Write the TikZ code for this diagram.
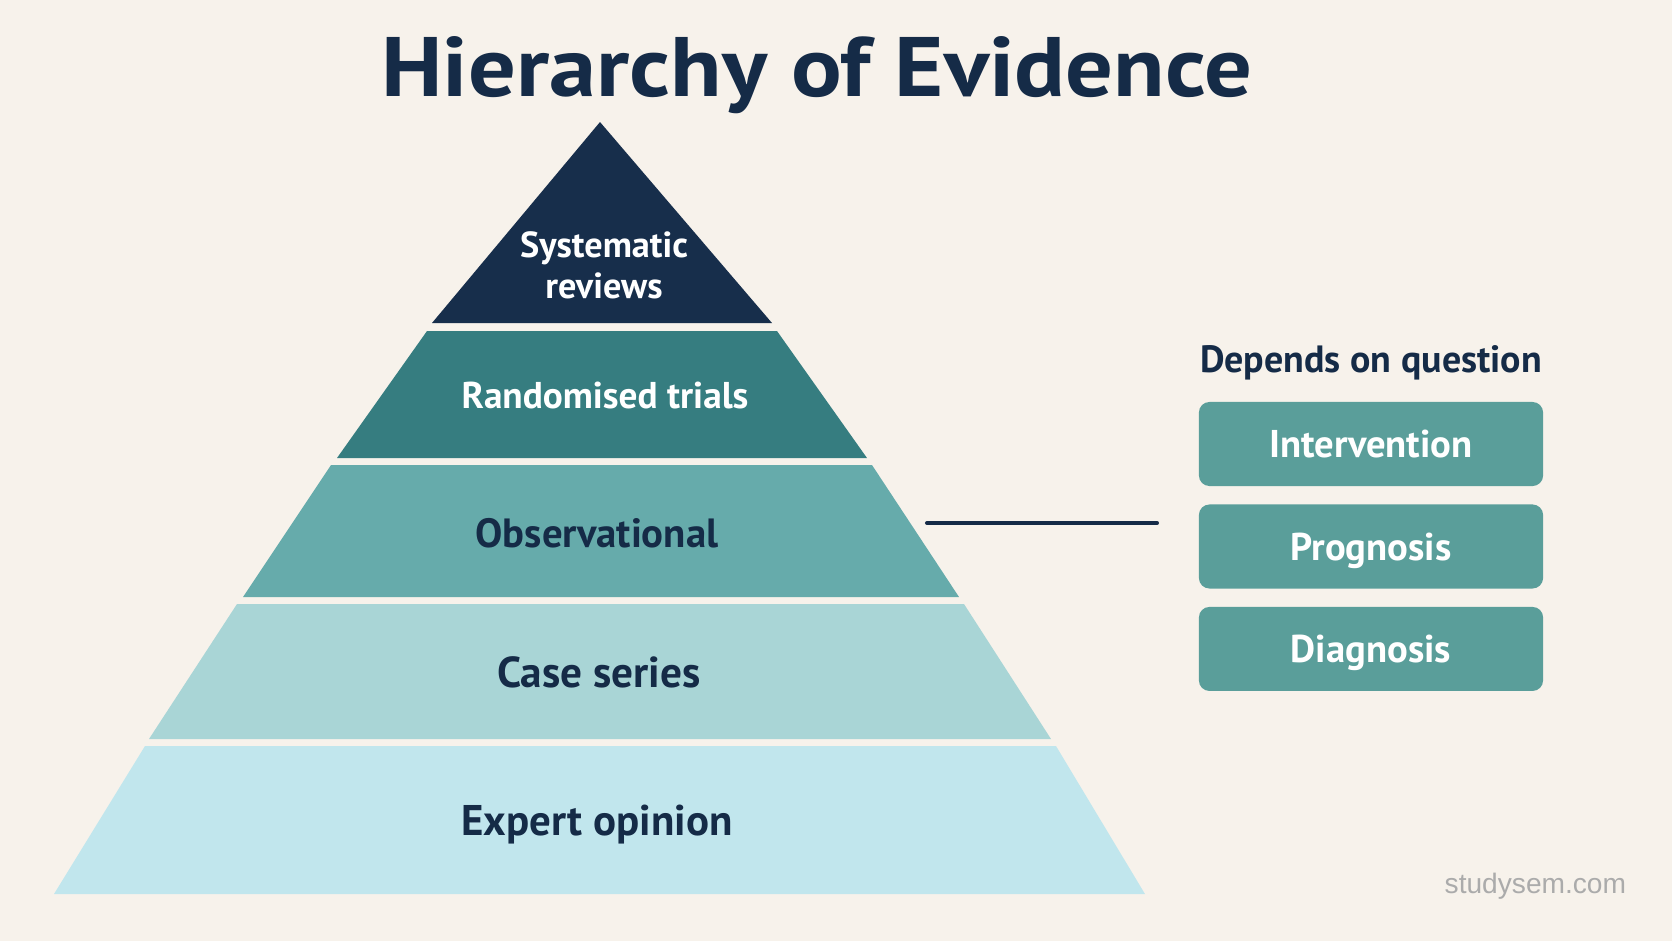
\documentclass[tikz,border=0pt]{standalone}
\usepackage{fontspec}
\setmainfont{PT Sans}
\newfontfamily\titlefont[FakeStretch=1.12]{PT Sans}
\newfontfamily\markfont{Liberation Sans}
\usetikzlibrary{positioning}
\definecolor{bgcream}{HTML}{F7F2EB}
\definecolor{navyink}{HTML}{152B47}
\definecolor{tiertop}{HTML}{172E4B}
\definecolor{tiertwo}{HTML}{367D80}
\definecolor{tierthree}{HTML}{66ABAB}
\definecolor{tierfour}{HTML}{A9D5D6}
\definecolor{tierfive}{HTML}{C1E6ED}
\definecolor{qfill}{HTML}{5A9E9A}
\definecolor{markgray}{HTML}{ABABAB}

\begin{document}
\begin{tikzpicture}[x=0.01cm,y=-0.01cm,line cap=round,
  tierlbl/.style={anchor=base,inner sep=0pt,font=\bfseries},
  qbox/.style={fill=qfill,rounded corners=3pt,minimum width=3.44cm,minimum height=0.84cm,
    text height=7.7pt,text depth=0pt,inner sep=0pt,text=white,font=\bfseries\fontsize{11}{13}\selectfont}]
\useasboundingbox (0,0) rectangle (1672,941);
\fill[bgcream] (0,0) rectangle (1672,941);
% title
\node[tierlbl,text=navyink,font=\titlefont\bfseries\fontsize{24}{28}\selectfont] (title) at (817,96) {Hierarchy of Evidence};
% pyramid tiers, top to bottom
\fill[tiertop] (600,122) -- (772,323) -- (432,323) -- cycle;
\fill[tiertwo] (427,331) -- (777,331) -- (867,458) -- (337,458) -- cycle;
\fill[tierthree] (331,465) -- (872,465) -- (959,597) -- (243,597) -- cycle;
\fill[tierfour] (237,604) -- (964,604) -- (1051,739) -- (149,739) -- cycle;
\fill[tierfive] (145,746) -- (1056,746) -- (1145,894) -- (54,894) -- cycle;
% tier labels
\node[tierlbl,text=white,align=center,font=\bfseries\fontsize{10.3}{11.4}\selectfont] (sysrev) at (604,298) {Systematic\\reviews};
\node[tierlbl,text=white,font=\bfseries\fontsize{10.6}{12}\selectfont] (rct) at (605,408) {Randomised trials};
\node[tierlbl,text=navyink,font=\bfseries\fontsize{11.6}{14}\selectfont] (obs) at (597,547) {Observational};
\node[tierlbl,text=navyink,font=\bfseries\fontsize{12.3}{14}\selectfont] (cases) at (599,687) {Case series};
\node[tierlbl,text=navyink,font=\bfseries\fontsize{12.2}{15}\selectfont] (expert) at (597,835) {Expert opinion};
% question panel
\node[tierlbl,text=navyink,font=\bfseries\fontsize{10.8}{12}\selectfont] (depends) at (1371,372) {Depends on question};
\node[qbox] (interv) at (1371,444) {Intervention};
\node[qbox,below=0.17cm of interv] (progn) {Prognosis};
\node[qbox,below=0.17cm of progn] (diagn) {Diagnosis};
% link from observational tier
\coordinate (obsR) at (927,523);
\coordinate (panelL) at (1157,523);
\draw[navyink,line width=1.15pt] (obsR) -- (panelL);
% watermark
\node[anchor=base west,inner sep=0pt,text=markgray,font=\markfont\fontsize{8}{10}\selectfont] (mark) at (1444,893) {studysem.com};
\end{tikzpicture}
\end{document}
